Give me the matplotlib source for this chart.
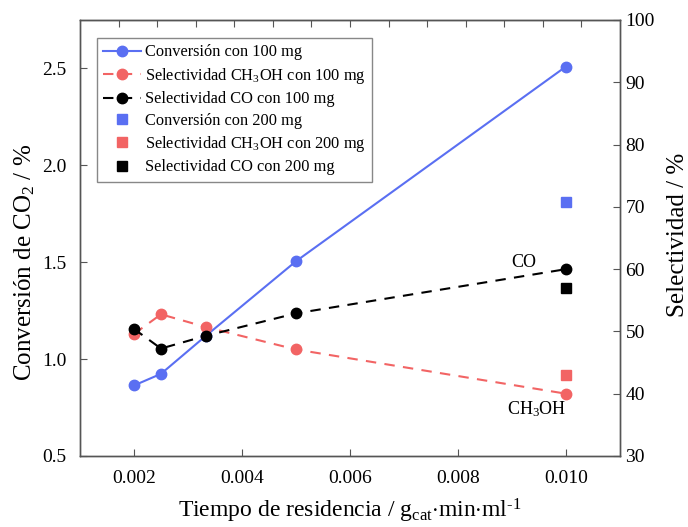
import matplotlib
matplotlib.use("Agg")
from matplotlib import pyplot as plt
from matplotlib.lines import Line2D
import numpy as np

plt.rcParams["font.family"] = ["Liberation Serif", "DejaVu Serif"]
plt.rcParams["mathtext.fontset"] = "custom"
plt.rcParams["mathtext.rm"] = "Liberation Serif"
plt.rcParams["mathtext.it"] = "Liberation Serif:italic"

# tiempo de residencia (g_cat min / ml)
tiempo_100 = [0.002, 0.0025, 0.00333, 0.005, 0.010]
tiempo_200 = [0.010]

# conversion de CO2 (%)
conv_100 = [0.864, 0.924, 1.12, 1.505, 2.51]
conv_200 = [1.81]

# selectividades (%)
sel_ch3oh_100 = [49.6, 52.75, 50.7, 47.1, 40.0]
sel_co_100 = [50.4, 47.25, 49.3, 52.9, 60.0]
sel_ch3oh_200 = [43.0]
sel_co_200 = [57.0]

c_blue = "#5a6ff2"
c_red = "#f26464"
c_black = "black"
spine_col = "#555555"

fig = plt.figure(figsize=(6.88, 5.27), dpi=100)
ax1 = fig.add_axes([80 / 688, 1 - 456 / 527, 540 / 688, 436 / 527])
ax2 = ax1.twinx()

ax1.plot(tiempo_100, conv_100, "-o", color=c_blue, lw=1.5, ms=7.5, zorder=3)
ax1.plot(tiempo_200, conv_200, "s", color=c_blue, ms=6.5, zorder=3)

ax2.plot(tiempo_100, sel_ch3oh_100, "--o", color=c_red, lw=1.5, ms=7.5, dashes=(5, 4))
ax2.plot(tiempo_100, sel_co_100, "--o", color=c_black, lw=1.5, ms=7.5, dashes=(5, 4))
ax2.plot(tiempo_200, sel_ch3oh_200, "s", color=c_red, ms=6.5)
ax2.plot(tiempo_200, sel_co_200, "s", color=c_black, ms=6.5)

ax2.text(0.00921, 61.0, "CO", ha="center", va="center", fontsize=13)
ax2.text(0.00945, 37.6, r"CH$_3$OH", ha="center", va="center", fontsize=13)

ax1.set_xlim(0.001, 0.011)
ax1.set_ylim(0.5, 2.75)
ax2.set_ylim(30, 100)

ax1.set_xticks([0.002, 0.004, 0.006, 0.008, 0.010])
ax1.set_xticklabels(["0.002", "0.004", "0.006", "0.008", "0.010"])
ax1.set_yticks([0.5, 1.0, 1.5, 2.0, 2.5])
ax2.set_yticks([30, 40, 50, 60, 70, 80, 90, 100])

# ticks sin etiqueta en el eje superior
top = ax1.secondary_xaxis("top")
top.set_xticks(0.001 + np.arange(1, 14) * 0.01 / 14)
top.tick_params(direction="in", length=5, labeltop=False, color=spine_col)
top.spines["top"].set_color(spine_col)

for ax in (ax1, ax2):
    for s in ax.spines.values():
        s.set_color(spine_col)
        s.set_linewidth(1.0)
ax1.tick_params(direction="in", length=5, labelsize=14, color=spine_col, pad=10)
ax2.tick_params(direction="in", length=5, labelsize=14, color=spine_col, pad=4)

ax1.set_xlabel(r"Tiempo de residencia / g$_{\rm cat}$$\cdot$min$\cdot$ml$^{\text{-}1}$",
               fontsize=17, labelpad=7)
fig.text(25 / 688, 1 - 262 / 527, r"Conversión de CO$_2$ / %", fontsize=18,
         rotation=90, ha="center", va="center")
fig.text(678 / 688, 1 - 235 / 527, "Selectividad / %", fontsize=18,
         rotation=90, ha="center", va="center")

handles = [
    Line2D([], [], color=c_blue, ls="-", marker="o", lw=1.5, ms=7.5),
    Line2D([], [], color=c_red, ls="--", marker="o", lw=1.5, ms=7.5, dashes=(5, 4)),
    Line2D([], [], color=c_black, ls="--", marker="o", lw=1.5, ms=7.5, dashes=(5, 4)),
    Line2D([], [], color=c_blue, ls="none", marker="s", ms=6.5),
    Line2D([], [], color=c_red, ls="none", marker="s", ms=6.5),
    Line2D([], [], color=c_black, ls="none", marker="s", ms=6.5),
]
labels = [
    "Conversión con 100 mg",
    r"Selectividad CH$_3$OH con 100 mg",
    "Selectividad CO con 100 mg",
    "Conversión con 200 mg",
    r"Selectividad CH$_3$OH con 200 mg",
    "Selectividad CO con 200 mg",
]
leg = ax2.legend(handles, labels, loc="upper left", bbox_to_anchor=(0.031, 0.959),
                 borderaxespad=0, fontsize=11.8, fancybox=False, edgecolor="#888888",
                 framealpha=1, labelspacing=0.33, handlelength=2.3, handletextpad=0.25,
                 borderpad=0.4)

fig.savefig("out.png", dpi=100)
